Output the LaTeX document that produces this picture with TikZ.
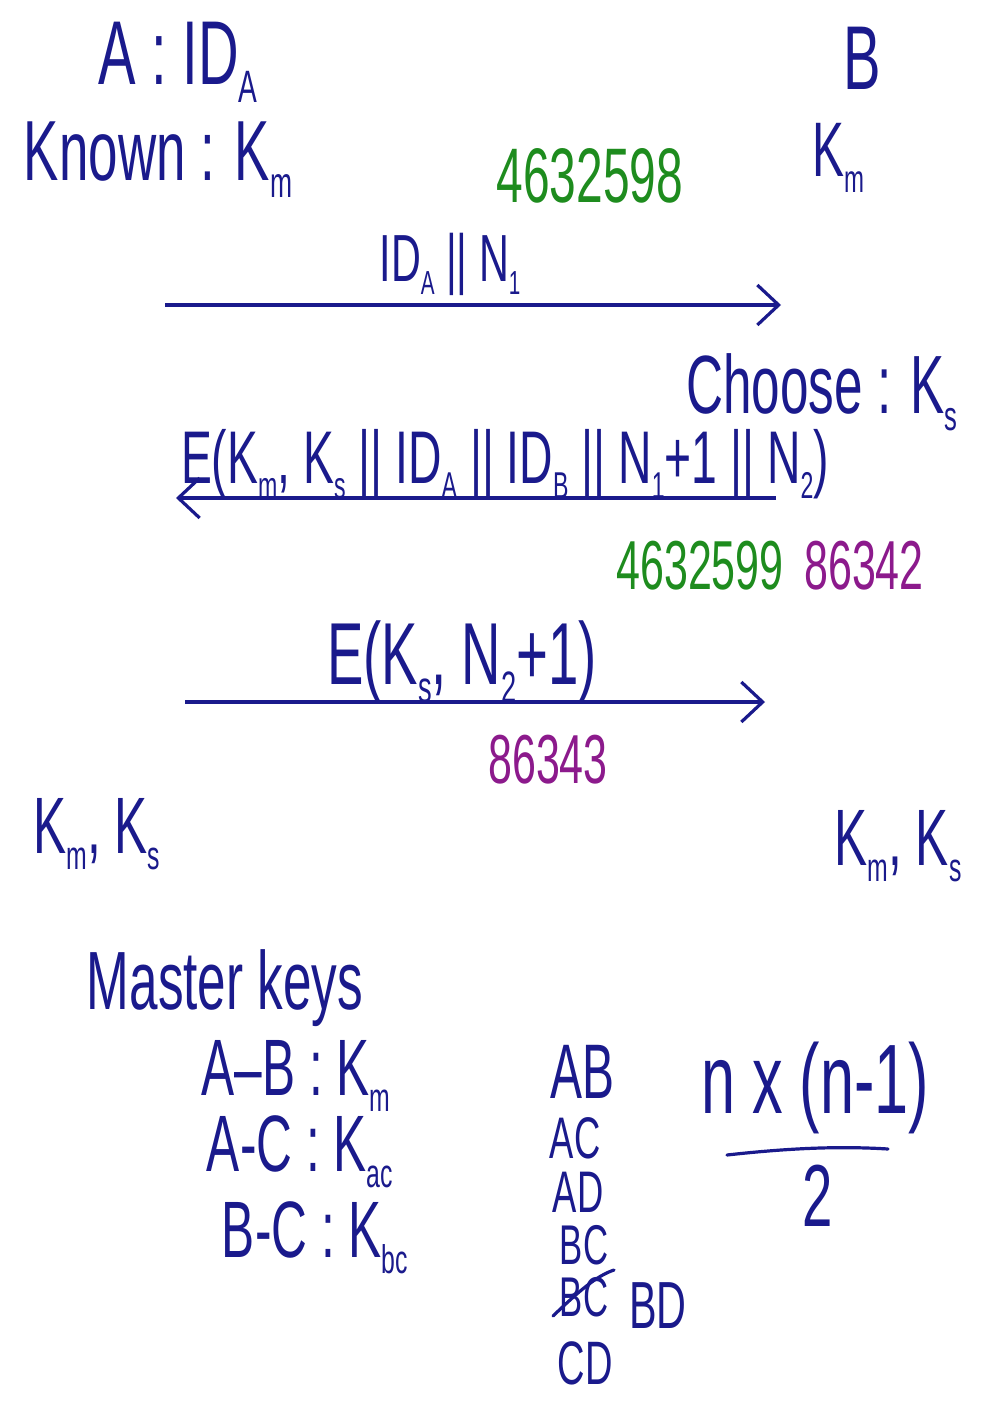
\documentclass[tikz,border=0pt]{standalone}
\usepackage{fontspec}
\setmainfont{Liberation Sans}
\usepackage{graphicx}
\usetikzlibrary{arrows.meta}
\definecolor{ink}{HTML}{1A1A8C}
\definecolor{inkgreen}{HTML}{1E8C1E}
\definecolor{inkpurple}{HTML}{8C1A8C}
\newcommand\lowsub[1]{\raisebox{-0.2em}{\scalebox{0.5}{#1}}}
\newcommand\fs[1]{\fontsize{#1}{#1}\selectfont}
\begin{document}
\begin{tikzpicture}[x=0.75pt,y=-0.75pt,
  hw/.style={text=ink, inner sep=0pt, xscale=0.62, transform shape},
  hwg/.style={hw, text=inkgreen},
  hwp/.style={hw, text=inkpurple},
  pair/.style={hw, anchor=base, text depth=0pt},
  msg/.style={draw=ink, line width=2.4pt, -{Straight Barb[length=16pt,width=30pt,line width=2.4pt]}},
  pen/.style={draw=ink, line width=2.4pt, line cap=round}]
\fill[white] (0,0) rectangle (984,1412);
\useasboundingbox (0,0) rectangle (984,1412);

\node[hw, font=\fs{68}] (a) at (178,62) {A : ID\lowsub{A}};
\node[hw, font=\fs{68}] (b) at (862,58) {B};
\node[hw, font=\fs{64}] (known) at (158,160) {Known : K\lowsub{m}};
\node[hwg, font=\fs{58}] (n1) at (590,176) {4632598};
\node[hw, font=\fs{58}] (kmb) at (838,158) {K\lowsub{m}};

\node[hw, font=\fs{50}] (m1) at (450,264) {ID\lowsub{A} || N\lowsub{1}};
\coordinate (m1s) at (165,305);
\coordinate (m1e) at (781,305);
\draw[msg] (m1s) -- (m1e);

\node[hw, font=\fs{62}] (choose) at (822,392) {Choose : K\lowsub{s}};
\node[hw, font=\fs{56}] (m2) at (505,464) {E(K\lowsub{m}, K\lowsub{s} || ID\lowsub{A} || ID\lowsub{B} || N\lowsub{1}+1 || N\lowsub{2})};
\coordinate (m2s) at (776,498);
\coordinate (m2e) at (176,498);
\draw[msg] (m2s) -- (m2e);
\node[hwg, font=\fs{52}] (n1p) at (700,566) {4632599};
\node[hwp, font=\fs{52}] (n2) at (864,566) {86342};

\node[hw, font=\fs{66}] (m3) at (462,662) {E(K\lowsub{s}, N\lowsub{2}+1)};
\coordinate (m3s) at (185,702);
\coordinate (m3e) at (765,702);
\draw[msg] (m3s) -- (m3e);
\node[hwp, font=\fs{52}] (n2p) at (548,760) {86343};

\node[hw, font=\fs{60}] (kl) at (97,834) {K\lowsub{m}, K\lowsub{s}};
\node[hw, font=\fs{60}] (kr) at (898,846) {K\lowsub{m}, K\lowsub{s}};

\node[hw, font=\fs{62}] (master) at (225,988) {Master keys};
\node[hw, font=\fs{60}] (ab) at (296,1076) {A--B : K\lowsub{m}};
\node[hw, font=\fs{60}] (ac) at (300,1152) {A-C : K\lowsub{ac}};
\node[hw, font=\fs{60}] (bc) at (315,1238) {B-C : K\lowsub{bc}};

\node[pair, font=\fs{58}, text height=42pt] (pab) at (582,1098) {AB};
\node[pair, font=\fs{44}, text height=32pt] (pac) at (575,1158) {AC};
\node[pair, font=\fs{44}, text height=32pt] (pad) at (578,1212) {AD};
\node[pair, font=\fs{42}, text height=30pt] (pbc) at (584,1264) {BC};
\node[pair, font=\fs{42}, text height=30pt] (pbcx) at (584,1316) {BC};
\draw[pen] (553,1316) .. controls (578,1292) and (596,1276) .. (614,1270);
\node[pair, font=\fs{50}, text height=36pt] (pbd) at (658,1328) {BD};
\node[pair, font=\fs{46}, text height=33pt] (pcd) at (585,1384) {CD};

\node[hw, font=\fs{74}] (num) at (815,1088) {n x (n-1)};
\draw[pen] (727,1155) .. controls (790,1148) and (840,1146) .. (888,1149);
\node[hw, font=\fs{66}] (den) at (818,1196) {2};
\end{tikzpicture}
\end{document}
